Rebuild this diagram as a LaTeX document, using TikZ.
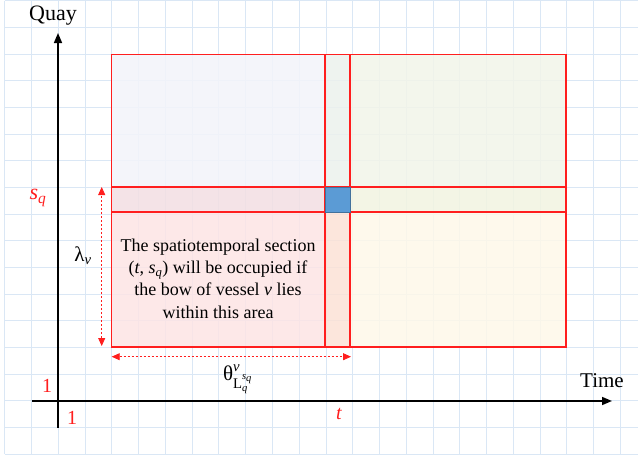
\documentclass[tikz,border=0pt]{standalone}
\usepackage{amsmath}
\usepackage{fontspec}
\setmainfont{LiberationSerif}[Extension=.ttf, UprightFont=*-Regular, ItalicFont=*-Italic, BoldFont=*-Bold, BoldItalicFont=*-BoldItalic]
\usetikzlibrary{arrows.meta}

\definecolor{gridblue}{RGB}{218,231,245}
\definecolor{secred}{RGB}{255,30,30}
\definecolor{fillA}{RGB}{243,244,250}
\definecolor{fillB}{RGB}{236,241,237}
\definecolor{fillC}{RGB}{242,245,233}
\definecolor{fillD}{RGB}{243,223,227}
\definecolor{fillE}{RGB}{242,244,225}
\definecolor{fillF}{RGB}{253,228,229}
\definecolor{fillG}{RGB}{252,226,214}
\definecolor{fillH}{RGB}{254,248,233}
\definecolor{cellblue}{RGB}{91,155,213}
\definecolor{celledge}{RGB}{65,113,156}

\tikzset{
  gridline/.style={draw=gridblue, line width=0.8pt},
  axis/.style={line width=1.6pt, -{Triangle[length=10pt,width=8pt]}},
  secline/.style={draw=secred, line width=1.3pt},
  span/.style={secred, dashed, dash pattern=on 2pt off 2pt, line width=0.8pt, {Triangle[length=8pt,width=7pt]}-{Triangle[length=8pt,width=7pt]}},
  redlabel/.style={text=secred, font=\fontsize{20}{24}\selectfont},
}

\begin{document}
\begin{tikzpicture}[x=1pt, y=-1pt]
\useasboundingbox (0,0) rectangle (638,459);
\fill[white] (0,0) rectangle (638,459);
% background grid
\foreach \i in {0,...,23}
  \draw[gridline] ({4.7+26.77*\i},0.7) -- ({4.7+26.77*\i},454);
\foreach \j in {0,...,17}
  \draw[gridline] (4.7,{0.7+26.67*\j}) -- (638,{0.7+26.67*\j});
% sections
\fill[fillA, fill opacity=0.85] (111.7,54.3) rectangle (325,187);
\fill[fillB, fill opacity=0.85] (325,54.3) rectangle (350,187);
\fill[fillC, fill opacity=0.85] (350,54.3) rectangle (566,187);
\fill[fillD, fill opacity=0.85] (111.7,187) rectangle (325,212);
\fill[fillE, fill opacity=0.85] (350,187) rectangle (566,212);
\fill[fillF, fill opacity=0.85] (111.7,212) rectangle (325,347);
\fill[fillG, fill opacity=0.85] (325,212) rectangle (350,347);
\fill[fillH, fill opacity=0.85] (350,212) rectangle (566,347);
\draw[secline] (111.7,54.3) rectangle (566,347);
\draw[secline] (325,54.3) -- (325,347);
\draw[secline] (350,54.3) -- (350,347);
\draw[secline] (111.7,187) -- (566,187);
\draw[secline] (111.7,212) -- (566,212);
\draw[fill=cellblue, draw=celledge, line width=1pt] (325,187) rectangle (350,212);
% axes
\coordinate (ybot) at (58,428);
\coordinate (ytop) at (58,33);
\coordinate (xleft) at (31.7,401);
\coordinate (xright) at (612,401);
\draw[axis] (ybot) -- (ytop);
\draw[axis] (xleft) -- (xright);
\node[font=\fontsize{22}{26}\selectfont] (quay) at (53,16) {Quay};
\node[font=\fontsize{21}{25}\selectfont] (time) at (602,381) {Time};
\node[redlabel] (one-y) at (47,386) {1};
\node[redlabel] (one-x) at (72,418) {1};
\node[redlabel] (tlab) at (339,414) {\textit{t}};
\node[redlabel, font=\fontsize{22}{26}\selectfont] (sq) at (38,198) {$\textit{s}_{\textit{q}}$};
% spans
\coordinate (vtop) at (101.7,187);
\coordinate (vbot) at (101.7,346);
\coordinate (hleft) at (111.7,356.7);
\coordinate (hright) at (351,356.7);
\draw[span] (vbot) -- (vtop);
\draw[span] (hleft) -- (hright);
\node[font=\fontsize{21}{25}\selectfont] (lambda) at (83,256) {$\text{λ}_{\textit{v}}$};
\node[font=\fontsize{21}{24}\selectfont] (theta) at (238,379)
  {$\text{θ}^{\textit{v}}_{\text{L}^{\textit{s}_{\textit{q}}}_{\textit{q}}}$};
\node[align=center, font=\fontsize{18}{22.3}\selectfont] (note) at (218,278.5)
  {The spatiotemporal section\\(\textit{t}, $\textit{s}_{\textit{q}}$) will be occupied if\\the bow of vessel \textit{v} lies\\within this area};
\end{tikzpicture}
\end{document}
